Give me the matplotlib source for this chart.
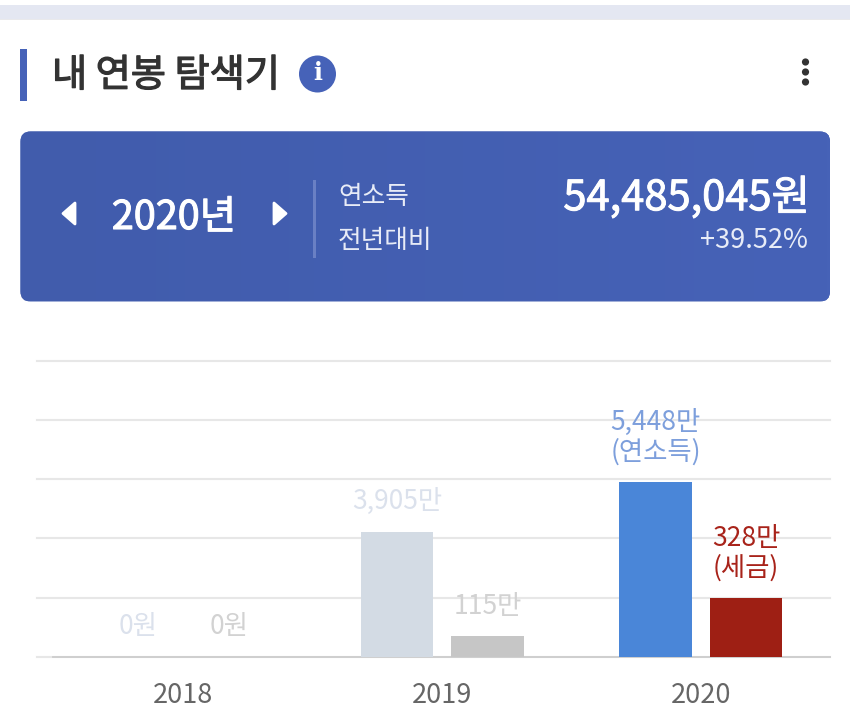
import numpy as np
from matplotlib import patheffects as pe
from matplotlib import pyplot as plt
from matplotlib.colors import LinearSegmentedColormap
from matplotlib.patches import Circle, FancyBboxPatch, Polygon, Rectangle

plt.rcParams['font.family'] = ['Noto Sans CJK KR', 'DejaVu Sans']

years = ['2018', '2019', '2020']
income = [0, 3905, 5448]
tax = [0, 115, 328]
income_labels = [['0원'], ['3,905만'], ['(연소득)', '5,448만']]
tax_labels = [['0원'], ['115만'], ['(세금)', '328만']]
income_colors = ['#d3dbe4', '#d3dbe4', '#4a86d8']
tax_colors = ['#c6c6c6', '#c6c6c6', '#9e1f14']
income_text_colors = ['#dbe1ec', '#dbe1ec', '#7d9fdc']
tax_text_colors = ['#d2d2d2', '#d2d2d2', '#a8231a']

income_max = 9238
tax_max = 1661

title = '내 연봉 탐색기'
selected_year = '2020년'
row_labels = ['연소득', '전년대비']
total_text = '54,485,045원'
change_text = '+39.52%'

W, H = 850, 720
fig = plt.figure(figsize=(W / 100, H / 100), dpi=100, facecolor='white')


def heavier(color, width):
    return [pe.withStroke(linewidth=width, foreground=color)]


# page furniture, in pixel coordinates
bg = fig.add_axes([0, 0, 1, 1])
bg.axis('off')
bg.add_patch(Rectangle((0, 5), W, 15, fc='#e4e7f2', ec='none'))
bg.add_patch(Rectangle((0, 19), W, 1, fc='#e9e9ec', ec='none'))
bg.add_patch(Rectangle((20.5, 49), 6.5, 52, fc='#4662b8', ec='none'))
bg.text(52, 76, title, fontsize=27.5, color='#333333', va='center',
        path_effects=heavier('#333333', 0.9))
bg.add_patch(Circle((317.5, 74), 18.5, fc='#4662b8', ec='none'))
bg.text(317.5, 73, 'i', fontsize=17, color='white', ha='center', va='center',
        family='DejaVu Serif', fontweight='bold')
for dot_y in [62, 72, 82]:
    bg.add_patch(Circle((805.5, dot_y), 3.6, fc='#333333', ec='none'))

panel = FancyBboxPatch((20.5, 131.5), 809.5, 170, boxstyle='round,pad=0,rounding_size=10',
                       fc='#4460b2', ec='none')
bg.add_patch(panel)
panel_cmap = LinearSegmentedColormap.from_list('panel', ['#415cac', '#4662b7'])
img = bg.imshow(np.linspace(0, 1, 256).reshape(1, -1), extent=(20.5, 830, 301.5, 131.5),
                cmap=panel_cmap, aspect='auto', zorder=1)
img.set_clip_path(panel)
bg.set_xlim(0, W)
bg.set_ylim(H, 0)

bg.add_patch(Polygon([(75, 203), (75, 224), (63, 213.5)], fc='white', ec='white', lw=2, joinstyle='round', zorder=2))
bg.add_patch(Polygon([(274, 203), (274, 224), (286, 213.5)], fc='white', ec='white', lw=2, joinstyle='round', zorder=2))
bg.text(174, 218, selected_year, fontsize=28.5, color='white', ha='center', va='center',
        path_effects=heavier('white', 0.8), zorder=3)
bg.add_patch(Rectangle((313.5, 180), 3, 78, fc='#6a80c4', ec='none', zorder=2))
bg.text(338, 197, row_labels[0], fontsize=18.5, color='#e8ecf7', va='center', zorder=3)
bg.text(338, 241, row_labels[1], fontsize=18.5, color='#e8ecf7', va='center', zorder=3)
bg.text(810, 198, total_text, fontsize=30, color='white', ha='right', va='center',
        path_effects=heavier('white', 0.7), zorder=3)
bg.text(808, 241, change_text, fontsize=19.5, color='#e8ecf7', ha='right', va='center', zorder=3)

# chart, income and tax have their own scales
ax = fig.add_axes([37 / W, (H - 656.7) / H, 793 / W, 295.7 / H])
ax.patch.set_alpha(0)
ax2 = ax.twinx()
ax2.patch.set_alpha(0)

x = np.arange(len(years))
bar_w = 0.28
offset = 0.1753

ax.bar(x - offset, income, bar_w, color=income_colors, zorder=3)
ax2.bar(x + offset, tax, bar_w, color=tax_colors, zorder=3)

ax.set_xlim(-0.566, 2.4995)
ax.set_ylim(0, income_max)
ax2.set_ylim(0, tax_max)
ax.set_yticks(np.linspace(0, income_max, 6))
ax.set_yticklabels([])
ax2.set_yticks([])
ax.grid(axis='y', color='#e7e7e7', lw=1.5, zorder=0)
for line in ax.get_ygridlines():
    line.set_clip_on(False)
ax.set_xticks(x)
ax.set_xticklabels(years, fontsize=19.5, color='#666666')
ax.tick_params(length=0)
ax.tick_params(axis='x', pad=18)
for a in [ax, ax2]:
    for s in a.spines.values():
        s.set_visible(False)
ax.plot([0.02, 1], [0, 0], transform=ax.transAxes, color='#cfcfcf', lw=1.4, zorder=2, clip_on=False)


def bar_labels(axis, xs, vals, labels, colors):
    for xi, v, lines, c in zip(xs, vals, labels, colors):
        for n, s in enumerate(lines):
            axis.annotate(s, (xi, v), xytext=(0, 30 + 30 * n), textcoords='offset pixels',
                          ha='center', va='center', fontsize=19, color=c, annotation_clip=False)


bar_labels(ax, x - offset, income, income_labels, income_text_colors)
bar_labels(ax2, x + offset, tax, tax_labels, tax_text_colors)

fig.savefig('out.png', dpi=100)
